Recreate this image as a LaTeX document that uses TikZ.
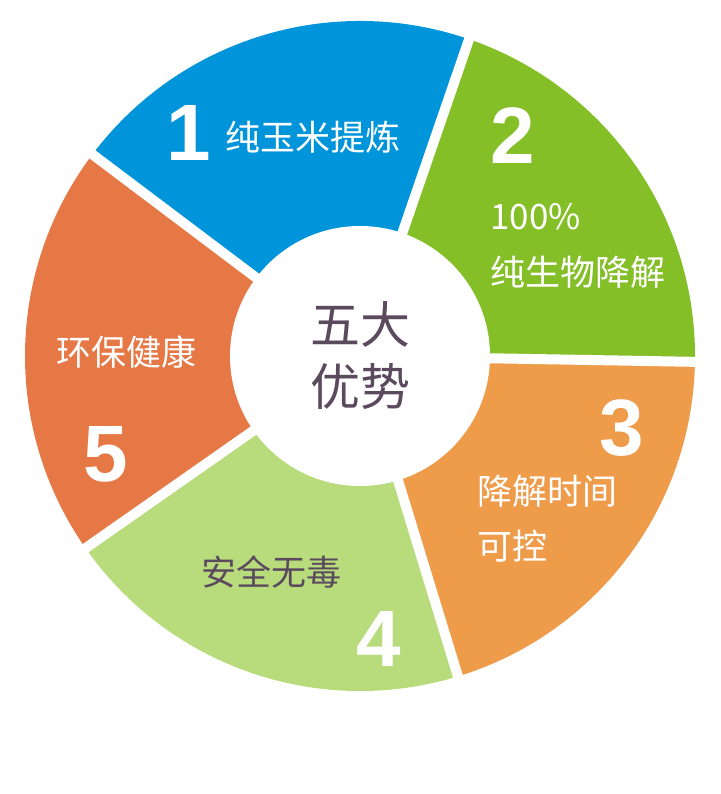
\documentclass[tikz,border=0pt]{standalone}
\usepackage{fontspec}
\usepackage{tikz}
\usetikzlibrary{positioning}
\newfontfamily\cjk{Noto Sans CJK SC}
\newfontfamily\numfont{Liberation Sans}
\definecolor{segblue}{RGB}{0,148,218}
\definecolor{seggreen}{RGB}{132,191,40}
\definecolor{segorange}{RGB}{238,155,74}
\definecolor{seglime}{RGB}{184,219,124}
\definecolor{segrust}{RGB}{230,120,69}
\definecolor{plum}{RGB}{91,74,94}

\begin{document}
\begin{tikzpicture}[
  x=1pt, y=1pt,
  num/.style={inner sep=0pt, text=white, font=\numfont\bfseries\fontsize{80}{80}\selectfont},
  lbl/.style={inner sep=0pt, text=white, font=\cjk\fontsize{35}{42}\selectfont},
  gap/.style={white, line width=10pt},
  hub/.style={circle, fill=white, minimum size=260pt, inner sep=0pt, align=center,
              text=plum, font=\cjk\fontsize{50}{62}\selectfont}
]
  \useasboundingbox (-360,-438) rectangle (360,356);
  \coordinate (ctr) at (0,0);
  % the five ring segments
  \fill[seggreen]  (ctr) -- (-1:335pt) arc[start angle=-1, end angle=71, radius=335pt] -- cycle;
  \fill[segblue]   (ctr) -- (71:335pt) arc[start angle=71, end angle=143, radius=335pt] -- cycle;
  \fill[segrust]   (ctr) -- (143:335pt) arc[start angle=143, end angle=215, radius=335pt] -- cycle;
  \fill[seglime]   (ctr) -- (215:335pt) arc[start angle=215, end angle=287, radius=335pt] -- cycle;
  \fill[segorange] (ctr) -- (287:335pt) arc[start angle=287, end angle=359, radius=335pt] -- cycle;
  \foreach \a in {-1,71,143,215,287}
    \draw[gap] (ctr) -- (\a:345pt);
  \node[hub] (hub) at (ctr) {五大\\优势};
  % numbers and labels
  \node[num] (n1) at (-171,223) {1};
  \node[lbl] (t1) at (-47,219) {纯玉米提炼};
  \node[num] (n2) at (153,220) {2};
  \node[lbl, anchor=west] (t2a) at (130,139) {100\%};
  \node[lbl, below=55pt of t2a.west, anchor=west] (t2b) {纯生物降解};
  \node[num] (n3) at (262,-72) {3};
  \node[lbl, anchor=west] (t3a) at (117,-135) {降解时间};
  \node[lbl, below=55pt of t3a.west, anchor=west] (t3b) {可控};
  \node[num] (n4) at (19,-283) {4};
  \node[lbl, text=plum] (t4) at (-88,-216) {安全无毒};
  \node[num] (n5) at (-254,-98) {5};
  \node[lbl] (t5) at (-233,4) {环保健康};
\end{tikzpicture}
\end{document}
